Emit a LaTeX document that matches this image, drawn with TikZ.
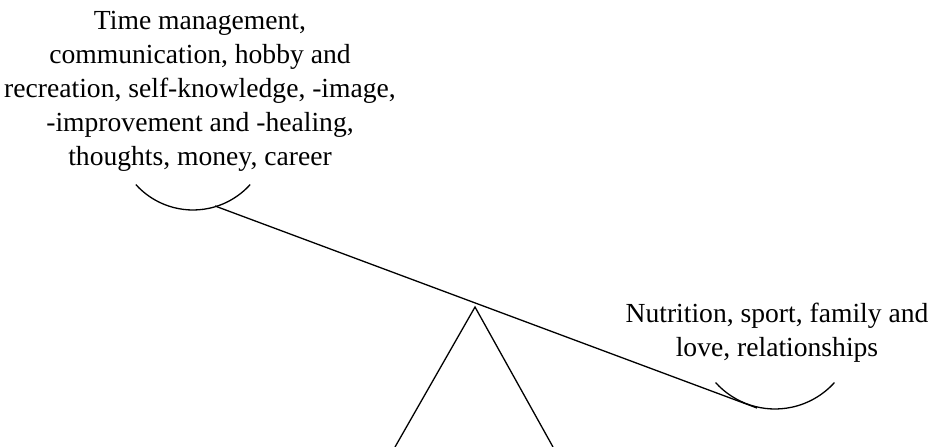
\documentclass[tikz,border=0pt]{standalone}
\usepackage{fontspec}
\setmainfont{Liberation Serif}
\usetikzlibrary{calc}
\begin{document}
\begin{tikzpicture}[x=1pt,y=1pt,
  lbl/.style={align=center,inner sep=0pt,font=\fontsize{27.6}{34}\selectfont},
  ln/.style={line width=1.3pt,black}]
\useasboundingbox (0,0) rectangle (937,447);
\begin{scope}
\clip (0,0) rectangle (937,447);
% pans
\coordinate (lc) at (193,314);
\coordinate (rc) at (775,118);
\draw[ln] ($(lc)+(222:77)$) arc[start angle=222,end angle=318,radius=77];
\draw[ln] ($(rc)+(222:80)$) arc[start angle=222,end angle=318,radius=80];
% beam
\coordinate (bl) at (215,241);
\coordinate (br) at (757,39);
\draw[ln] (bl) -- (br);
% fulcrum
\coordinate (apex) at (475,140);
\coordinate (fl) at (395,0);
\coordinate (fr) at (553,0);
\draw[ln] (fl) -- (apex) -- (fr);
\end{scope}
\node[lbl,anchor=north] (top) at (200,436) {Time management,\\communication, hobby and\\recreation, self-knowledge, -image,\\-improvement and -healing,\\thoughts, money, career};
\node[lbl,anchor=north] (right) at (777,144) {Nutrition, sport, family and\\love, relationships};
\end{tikzpicture}
\end{document}
